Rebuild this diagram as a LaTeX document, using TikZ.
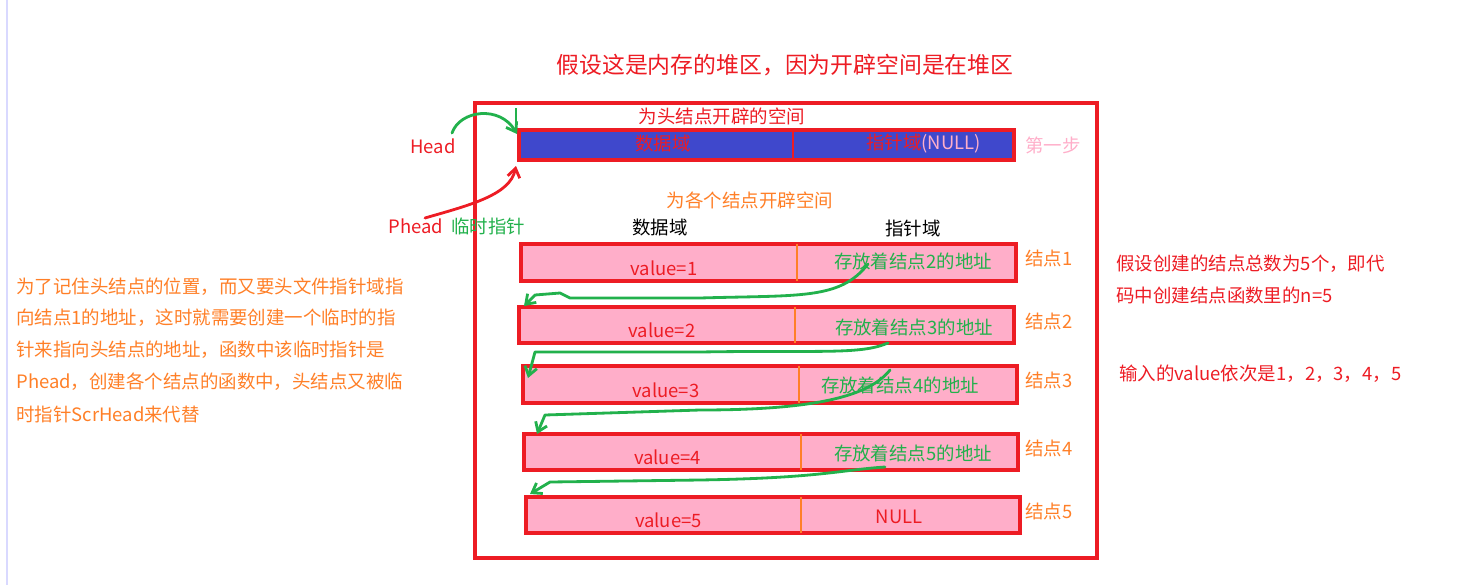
\documentclass[tikz,border=0pt]{standalone}
\usepackage{fontspec}
\setmainfont{Noto Sans CJK SC}
\usetikzlibrary{arrows.meta}
\definecolor{rd}{HTML}{ED1C24}
\definecolor{og}{HTML}{FF7F27}
\definecolor{gr}{HTML}{22B14C}
\definecolor{pk}{HTML}{FFAEC9}
\definecolor{bl}{HTML}{3F48CC}
\begin{document}
\begin{tikzpicture}[x=0.02cm,y=-0.02cm,
  txt/.style={font=\fontsize{10.5}{12}\selectfont, inner sep=0pt},
  box/.style={draw=rd, line width=2pt, fill=pk},
  divl/.style={draw=og, line width=1.3pt},
  garr/.style={draw=gr, line width=1.6pt, line cap=round, line join=round, -{Straight Barb[length=5pt,width=7pt]}}]
\useasboundingbox (0,0) rectangle (1463,585);
\draw[color=blue!15, line width=1pt] (7,0) -- (7,585);
\draw[draw=rd, line width=2pt] (475,103) rectangle (1097,558);
\node[txt, rd, font=\fontsize{13}{14}\selectfont] (title) at (785,65) {假设这是内存的堆区，因为开辟空间是在堆区};
% head box
\draw[draw=rd, line width=2pt, fill=bl] (519,130) rectangle (1014,160);
\draw[draw=rd, line width=1.3pt] (793,130) -- (793,160);
\node[txt, rd] (hlab) at (722,116) {为头结点开辟的空间};
\node[txt, rd] (hd) at (663,144) {数据域};
\node[txt, anchor=west] (hp) at (866,144) {\textcolor{rd}{指针域}\textcolor{pk}{(NULL)}};
\node[txt, pk] (step1) at (1053,145) {第一步};
\node[txt, rd] (head) at (433,146) {Head};
\node[txt, rd] (phead) at (416,226) {Phead};
\node[txt, gr] (tmp) at (488,226) {临时指针};
\node[txt, og] (each) at (750,200) {为各个结点开辟空间};
\node[txt] (dcol) at (660,228) {数据域};
\node[txt] (pcol) at (913,228) {指针域};
\coordinate (hs) at (452,133);
\coordinate (he) at (517,134);
\draw[garr] (hs) .. controls (460,110) and (500,105) .. (he);
\draw[draw=gr, line width=1.6pt] (516,108) -- (516,132);
\coordinate (ps) at (425,218);
\coordinate (pe) at (516,166);
\draw[draw=rd, line width=1.6pt, line cap=round, -{Straight Barb[length=5pt,width=7pt]}] (ps) .. controls (470,205) and (510,195) .. (pe);
% nodes
\foreach \i/\xa/\ya/\xb/\yb/\xd/\v in {
 1/521/244/1016/281/797/value=1,
 2/519/307/1014/343/795/value=2,
 3/523/366/1017/403/799/value=3,
 4/524/434/1018/470/801/value=4,
 5/526/497/1020/533/801/value=5}{
  \draw[box] (\xa,\ya) rectangle (\xb,\yb);
  \draw[divl] (\xd,\ya) -- (\xd,\yb);
  \node[txt, rd] (v\i) at ({(\xa+\xd)/2+5},{\yb-13}) {\v};
  \node[txt, og, anchor=west] (n\i) at (1025,{(\ya+\yb)/2-4}) {结点\i};
}
\node[txt, gr] (p1) at (913,261) {存放着结点2的地址};
\node[txt, gr] (p2) at (914,327) {存放着结点3的地址};
\node[txt, gr] (p3) at (900,385) {存放着结点4的地址};
\node[txt, gr] (p4) at (913,453) {存放着结点5的地址};
\node[txt, rd] (p5) at (899,517) {NULL};
\draw[garr] (868,264) .. controls (840,300) and (800,295) .. (700,298) -- (570,298) -- (560,293) -- (535,295) -- (524,306);
\draw[garr] (888,343) .. controls (860,355) and (820,350) .. (700,352) -- (535,352) -- (528,378);
\draw[garr] (890,370) .. controls (870,395) and (820,410) .. (700,410) -- (545,415) -- (537,434);
\draw[garr] (885,467) .. controls (840,470) and (820,478) .. (700,480) -- (550,482) -- (530,494);
% right texts
\node[txt, rd, anchor=west] (r1) at (1116,264) {假设创建的结点总数为5个，即代};
\node[txt, rd, anchor=west] (r2) at (1116,295) {码中创建结点函数里的n=5};
\node[txt, rd, anchor=west] (r3) at (1119,374) {输入的value依次是1，2，3，4，5};
% left text
\node[txt, og, anchor=west] (l1) at (16,287) {为了记住头结点的位置，而又要头文件指针域指};
\node[txt, og, anchor=west] (l2) at (16,318) {向结点1的地址，这时就需要创建一个临时的指};
\node[txt, og, anchor=west] (l3) at (16,350) {针来指向头结点的地址，函数中该临时指针是};
\node[txt, og, anchor=west] (l4) at (16,382) {Phead，创建各个结点的函数中，头结点又被临};
\node[txt, og, anchor=west] (l5) at (16,414) {时指针ScrHead来代替};
\end{tikzpicture}
\end{document}
